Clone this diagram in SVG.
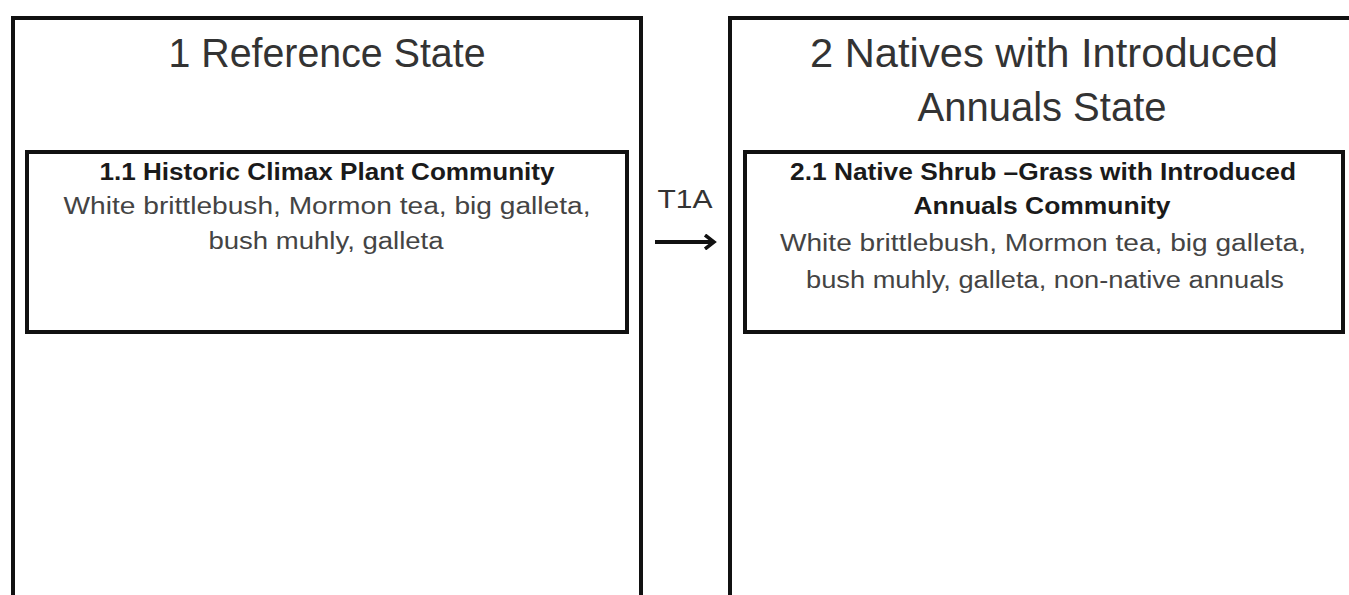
<svg xmlns="http://www.w3.org/2000/svg" width="1349" height="595" viewBox="0 0 1349 595">
<style>
.box{fill:none;stroke:#111;stroke-width:4}
.t{font-family:"Liberation Sans",Arial,sans-serif;text-anchor:middle}
.title{font-size:41px;fill:#333}
.b{font-size:23px;font-weight:bold;fill:#1a1a1a}
.n{font-size:23px;fill:#444}
</style>
<defs>
<marker id="ah" markerWidth="14" markerHeight="16" refX="11" refY="8" orient="auto" markerUnits="userSpaceOnUse">
<path d="M2,1 L11,8 L2,15" fill="none" stroke="#111" stroke-width="3.5"/>
</marker>
</defs>
<rect width="1349" height="595" fill="#fff"/>
<g id="state1">
<rect class="box" x="13" y="18" width="628" height="600"/>
<text class="t title" x="327" y="67" textLength="317" lengthAdjust="spacingAndGlyphs">1 Reference State</text>
</g>
<g id="community1">
<rect class="box" x="27" y="152" width="600" height="180"/>
<text class="t b" x="327" y="180" textLength="455" lengthAdjust="spacingAndGlyphs">1.1 Historic Climax Plant Community</text>
<text class="t n" x="327" y="214" textLength="527" lengthAdjust="spacingAndGlyphs">White brittlebush,  Mormon tea, big galleta,</text>
<text class="t n" x="326" y="249" textLength="235" lengthAdjust="spacingAndGlyphs">bush muhly, galleta</text>
</g>
<g id="state2">
<rect class="box" x="730" y="18" width="640" height="600"/>
<text class="t title" x="1044" y="67" textLength="468" lengthAdjust="spacingAndGlyphs">2 Natives with Introduced</text>
<text class="t title" x="1042" y="121" textLength="249" lengthAdjust="spacingAndGlyphs">Annuals State</text>
</g>
<g id="community2">
<rect class="box" x="745" y="152" width="598" height="180"/>
<text class="t b" x="1043" y="180" textLength="506" lengthAdjust="spacingAndGlyphs">2.1 Native Shrub –Grass with Introduced</text>
<text class="t b" x="1042" y="214" textLength="257" lengthAdjust="spacingAndGlyphs">Annuals Community</text>
<text class="t n" x="1043" y="251" textLength="526" lengthAdjust="spacingAndGlyphs">White brittlebush,  Mormon tea, big galleta,</text>
<text class="t n" x="1045" y="288" textLength="478" lengthAdjust="spacingAndGlyphs">bush muhly, galleta, non-native annuals</text>
</g>
<g id="connectors">
<line x1="655" y1="242" x2="714" y2="242" stroke="#111" stroke-width="4" marker-end="url(#ah)"/>
<text class="t" x="685" y="208" font-size="26" fill="#333" textLength="55" lengthAdjust="spacingAndGlyphs">T1A</text>
</g>
</svg>
